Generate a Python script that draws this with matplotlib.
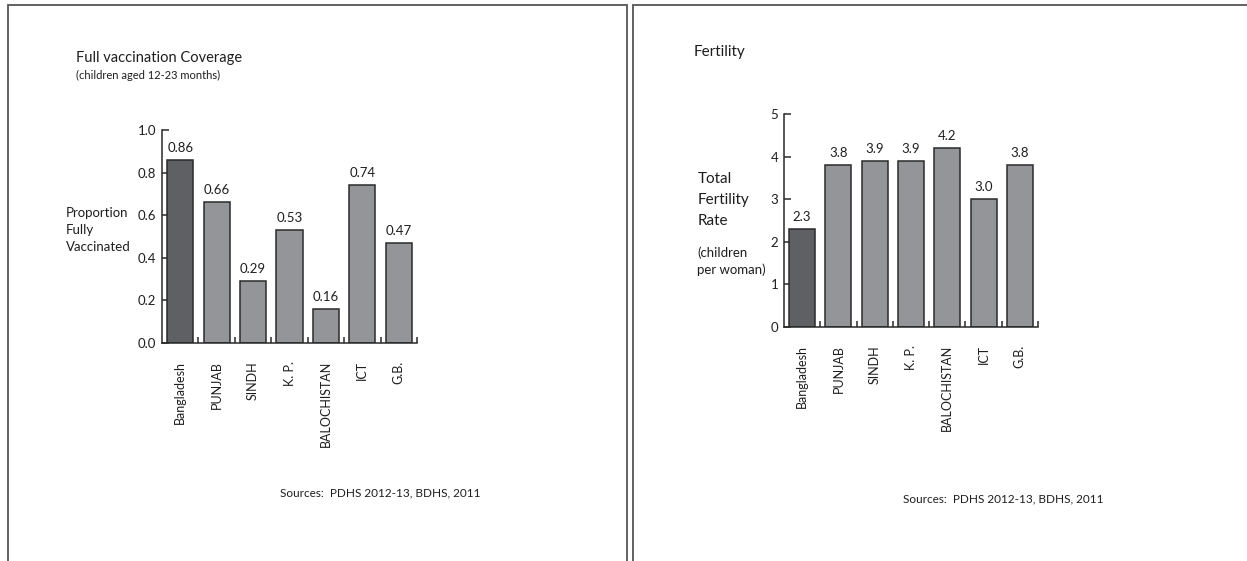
import numpy as np
import matplotlib.pyplot as plt
from matplotlib.patches import Rectangle

plt.rcParams['font.family'] = ['Lato', 'DejaVu Sans']

# Data
regions = ['Bangladesh', 'PUNJAB', 'SINDH', 'K. P.', 'BALOCHISTAN', 'ICT', 'G.B.']
vaccination = [0.86, 0.66, 0.29, 0.53, 0.16, 0.74, 0.47]
vacc_labels = ['0.86', '0.66', '0.29', '0.53', '0.16', '0.74', '0.47']
fertility = [2.3, 3.8, 3.9, 3.9, 4.2, 3.0, 3.8]
fert_labels = ['2.3', '3.8', '3.9', '3.9', '4.2', '3.0', '3.8']

W, H = 1247, 561
dark = '#5f6063'
light = '#939598'
edge = '#2a2a2a'
text_col = '#1e1e1e'

fig = plt.figure(figsize=(W / 100, H / 100), dpi=100)


def px(x, y):
    # pixel coords (from top-left) to figure fraction
    return x / W, 1 - y / H


def add_ax(left, top, width, height):
    return fig.add_axes([left / W, 1 - (top + height) / H, width / W, height / H])


def bar_panel(ax, values, labels, ymax, yticks, yfmt):
    x = np.arange(len(values))
    colors = [dark] + [light] * (len(values) - 1)
    ax.bar(x, values, width=0.72, color=colors, edgecolor=edge, linewidth=1.1, zorder=2)
    for xi, v, lab in zip(x, values, labels):
        ax.text(xi, v + ymax * 0.028, lab, ha='center', va='bottom', fontsize=9.5, color=text_col)
    ax.set_xlim(-0.5, len(values) - 0.5)
    ax.set_ylim(0, ymax)
    ax.set_yticks(yticks)
    ax.set_yticklabels([yfmt.format(t) for t in yticks], fontsize=9.5, color=text_col)
    ax.set_xticks(x)
    ax.set_xticklabels(regions, rotation=90, fontsize=9, color=text_col)
    ax.tick_params(axis='x', which='major', length=0, pad=13)
    ax.set_xticks(np.arange(0.5, len(values), 1.0), minor=True)
    ax.tick_params(axis='x', which='minor', direction='in', length=4, width=1.1, color=edge)
    ax.tick_params(axis='y', direction='in', length=5, width=1.1, color=edge, pad=4)
    for s in ['top', 'right']:
        ax.spines[s].set_visible(False)
    for s in ['left', 'bottom']:
        ax.spines[s].set_color(edge)
        ax.spines[s].set_linewidth(1.1)


# Panel borders
fig.patches.append(Rectangle(px(8, 600), (627 - 8) / W, (600 - 5) / H, transform=fig.transFigure,
                             fill=False, edgecolor='#555555', linewidth=1.3))
fig.patches.append(Rectangle(px(633, 600), (1260 - 633) / W, (600 - 5) / H, transform=fig.transFigure,
                             fill=False, edgecolor='#555555', linewidth=1.3))

# Left panel
ax1 = add_ax(162, 130, 255, 213)
bar_panel(ax1, vaccination, vacc_labels, 1.0, [0.0, 0.2, 0.4, 0.6, 0.8, 1.0], '{:.1f}')
fig.text(*px(76, 58), 'Full vaccination Coverage', fontsize=10.5, va='center', color=text_col)
fig.text(*px(76, 75), '(children aged 12-23 months)', fontsize=8, va='center', color=text_col)
fig.text(*px(66, 230), 'Proportion\nFully\nVaccinated', fontsize=9.5, va='center',
         linespacing=1.5, color=text_col)
fig.text(*px(280, 493), 'Sources:  PDHS 2012-13, BDHS, 2011', fontsize=8.5, va='center', color=text_col)

# Right panel
ax2 = add_ax(784, 114, 254, 213)
bar_panel(ax2, fertility, fert_labels, 5, [0, 1, 2, 3, 4, 5], '{:d}')
fig.text(*px(694, 52), 'Fertility', fontsize=11, va='center', color=text_col)
fig.text(*px(698, 200), 'Total\nFertility\nRate', fontsize=11, va='center',
         linespacing=1.6, color=text_col)
fig.text(*px(697, 261), '(children\nper woman)', fontsize=9.5, va='center',
         linespacing=1.45, color=text_col)
fig.text(*px(903, 499), 'Sources:  PDHS 2012-13, BDHS, 2011', fontsize=8.5, va='center', color=text_col)

fig.savefig('out.png', dpi=100)
